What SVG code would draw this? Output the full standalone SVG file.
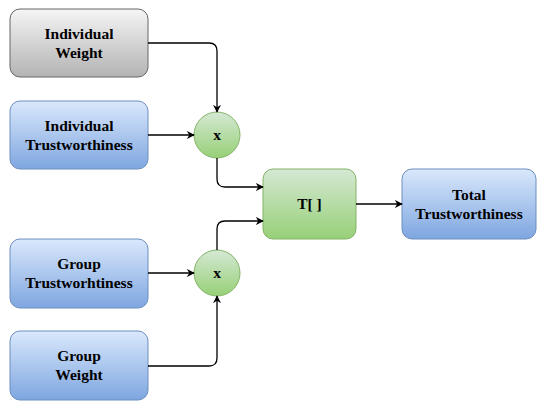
<svg xmlns="http://www.w3.org/2000/svg" width="537" height="401" viewBox="0 0 537 401">
<defs>
<linearGradient id="gGray" x1="0" y1="0" x2="0" y2="1"><stop offset="0" stop-color="#f5f5f5"/><stop offset="1" stop-color="#b3b3b3"/></linearGradient>
<linearGradient id="gBlue" x1="0" y1="0" x2="0" y2="1"><stop offset="0" stop-color="#dae8fc"/><stop offset="1" stop-color="#7ea6e0"/></linearGradient>
<linearGradient id="gGreen" x1="0" y1="0" x2="0" y2="1"><stop offset="0" stop-color="#d5e8d4"/><stop offset="1" stop-color="#97d077"/></linearGradient>
<marker id="arr" viewBox="0 0 10 10" refX="9" refY="5" markerWidth="8" markerHeight="8" markerUnits="userSpaceOnUse" orient="auto"><path d="M0,0 L10,5 L0,10 L3,5 Z" fill="#000"/></marker>
<style>
.gray{fill:url(#gGray);stroke:#666666;stroke-width:1}
.blue{fill:url(#gBlue);stroke:#6c8ebf;stroke-width:1}
.green{fill:url(#gGreen);stroke:#82b366;stroke-width:1}
.edge{fill:none;stroke:#000;stroke-width:1.3;marker-end:url(#arr)}
</style>
</defs>
<g font-family="Liberation Serif, serif" font-weight="bold" font-size="15.5" text-anchor="middle" fill="#000">
<g id="iw"><rect class="gray" x="10" y="9" width="138" height="68" rx="10"/><text x="79" y="39">Individual</text><text x="79" y="58">Weight</text></g>
<g id="it"><rect class="blue" x="10" y="101" width="138" height="68" rx="10"/><text x="79" y="131">Individual</text><text x="79" y="150">Trustworthiness</text></g>
<g id="gt"><rect class="blue" x="10" y="239" width="138" height="69" rx="10"/><text x="79" y="269">Group</text><text x="79" y="288">Trustworhtiness</text></g>
<g id="gw"><rect class="blue" x="10" y="331" width="138" height="69" rx="10"/><text x="79" y="361">Group</text><text x="79" y="380">Weight</text></g>
<g id="m1"><circle class="green" cx="217" cy="135" r="23"/><text x="217" y="140">x</text></g>
<g id="m2"><circle class="green" cx="217" cy="273" r="23"/><text x="217" y="278">x</text></g>
<g id="t"><rect class="green" x="263" y="169" width="93" height="70" rx="10"/><text x="309.5" y="209">T[ ]</text></g>
<g id="total"><rect class="blue" x="402" y="169" width="134" height="70" rx="10"/><text x="469" y="200">Total</text><text x="469" y="219">Trustworthiness</text></g>
</g>
<g id="connectors">
<path class="edge" d="M148,43 H209 Q217,43 217,51 V112"/>
<path class="edge" d="M148,135 H194"/>
<path class="edge" d="M217,158 V179 Q217,187 225,187 H263"/>
<path class="edge" d="M217,250 V229 Q217,221 225,221 H263"/>
<path class="edge" d="M356,204 H402"/>
<path class="edge" d="M148,273 H194"/>
<path class="edge" d="M148,366 H209 Q217,366 217,358 V296"/>
</g>
</svg>
